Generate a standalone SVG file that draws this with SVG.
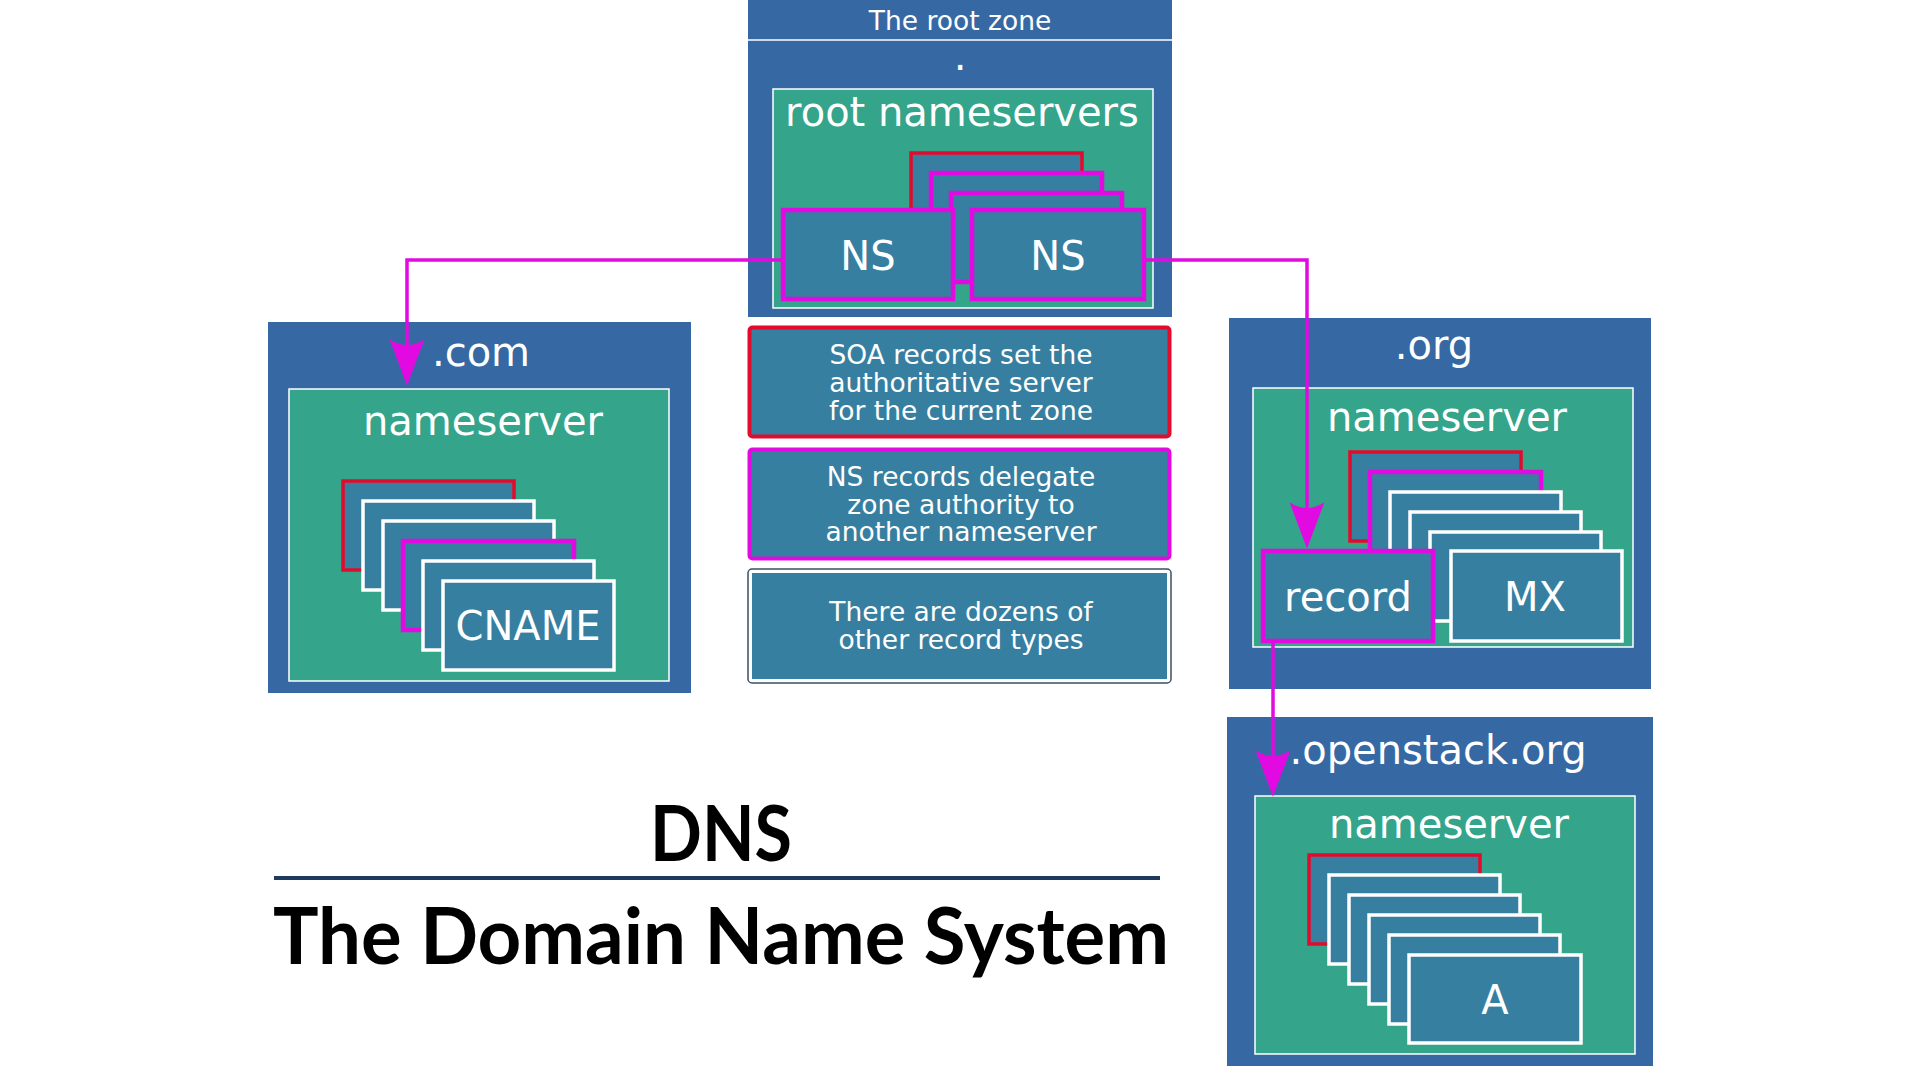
<svg xmlns="http://www.w3.org/2000/svg" width="1920" height="1080" viewBox="0 0 1920 1080">
<style>
.zone{fill:#3669a3}
.ns{fill:#34a48b;stroke:#ffffff;stroke-width:1.5}
.card{fill:#367fa1;stroke:#ffffff;stroke-width:3.5}
.red{stroke:#e30b2c}
.mag{stroke:#e10be1;stroke-width:4.5}
.t{font-family:"DejaVu Sans",sans-serif;fill:#ffffff;text-anchor:middle}
.big{font-size:40px}
.small{font-size:26.5px}
.conn{fill:none;stroke:#e10be1;stroke-width:3.5}
.title{font-family:Lato,"Liberation Sans",sans-serif;font-weight:700;fill:#000000;text-anchor:middle}
</style>
<defs>
<marker id="arr" markerUnits="userSpaceOnUse" markerWidth="60" markerHeight="40" viewBox="-50 -20 62 40" refX="0" refY="0" orient="auto">
<path d="M10,0 L-38,-18 Q-26,0 -38,18 Z" fill="#e10be1"/>
</marker>
</defs>
<rect width="1920" height="1080" fill="#ffffff"/>

<g id="root-zone">
<rect class="zone" x="748" y="0" width="424" height="317"/>
<line x1="748" y1="40" x2="1172" y2="40" stroke="#ffffff" stroke-width="1.5"/>
<text class="t small" x="960" y="30">The root zone</text>
<text class="t big" x="960" y="70">.</text>
<rect class="ns" x="773" y="89" width="380" height="219"/>
<text class="t big" x="962" y="126">root nameservers</text>
<rect class="card red" x="911" y="153" width="171" height="89"/>
<rect class="card mag" x="931" y="173" width="171" height="89"/>
<rect class="card mag" x="951" y="193" width="171" height="89"/>
<rect class="card mag" x="783" y="210" width="170" height="89"/>
<text class="t big" x="868" y="270">NS</text>
<rect class="card mag" x="972" y="210" width="172" height="89"/>
<text class="t big" x="1058" y="270">NS</text>
</g>

<g id="com-zone">
<rect class="zone" x="268" y="322" width="423" height="371"/>
<text class="t big" x="481" y="366">.com</text>
<rect class="ns" x="289" y="389" width="380" height="292"/>
<text class="t big" x="483" y="435">nameserver</text>
<rect class="card red" x="343" y="481" width="171" height="89"/>
<rect class="card" x="363" y="501" width="171" height="89"/>
<rect class="card" x="383" y="521" width="171" height="89"/>
<rect class="card mag" x="403" y="541" width="171" height="89"/>
<rect class="card" x="423" y="561" width="171" height="89"/>
<rect class="card" x="443" y="581" width="171" height="89"/>
<text class="t big" x="528" y="640">CNAME</text>
</g>

<g id="legend-soa">
<rect x="749.5" y="327.5" width="420" height="109" rx="3" fill="#367fa1" stroke="#e30b2c" stroke-width="4"/>
<text class="t small" x="961" y="364">SOA records set the</text>
<text class="t small" x="961" y="392">authoritative server</text>
<text class="t small" x="961" y="420">for the current zone</text>
</g>

<g id="legend-ns">
<rect x="749.5" y="449.5" width="420" height="109" rx="3" fill="#367fa1" stroke="#e10be1" stroke-width="4"/>
<text class="t small" x="961" y="486">NS records delegate</text>
<text class="t small" x="961" y="514">zone authority to</text>
<text class="t small" x="961" y="541">another nameserver</text>
</g>

<g id="legend-other">
<rect x="748" y="569" width="423" height="114" rx="4" fill="#ffffff" stroke="#3b4f66" stroke-width="1.5"/>
<rect x="752" y="573" width="415" height="106" fill="#367fa1"/>
<text class="t small" x="961" y="621">There are dozens of</text>
<text class="t small" x="961" y="649">other record types</text>
</g>

<g id="org-zone">
<rect class="zone" x="1229" y="318" width="422" height="371"/>
<text class="t big" x="1434" y="359">.org</text>
<rect class="ns" x="1253" y="388" width="380" height="259"/>
<text class="t big" x="1447" y="431">nameserver</text>
<rect class="card red" x="1350" y="452" width="171" height="89"/>
<rect class="card mag" x="1370" y="472" width="171" height="89"/>
<rect class="card" x="1390" y="492" width="171" height="89"/>
<rect class="card" x="1410" y="512" width="171" height="89"/>
<rect class="card" x="1430" y="532" width="171" height="89"/>
<rect class="card mag" x="1263" y="551" width="170" height="90"/>
<text class="t big" x="1348" y="611">record</text>
<rect class="card" x="1451" y="551" width="171" height="90"/>
<text class="t big" x="1535" y="611">MX</text>
</g>

<g id="openstack-zone">
<rect class="zone" x="1227" y="717" width="426" height="349"/>
<text class="t big" x="1438" y="764">.openstack.org</text>
<rect class="ns" x="1255" y="796" width="380" height="258"/>
<text class="t big" x="1449" y="838">nameserver</text>
<rect class="card red" x="1309" y="855" width="171" height="89"/>
<rect class="card" x="1329" y="875" width="171" height="89"/>
<rect class="card" x="1349" y="895" width="171" height="89"/>
<rect class="card" x="1369" y="915" width="171" height="89"/>
<rect class="card" x="1389" y="935" width="171" height="89"/>
<rect class="card" x="1409" y="955" width="172" height="88"/>
<text class="t big" x="1495" y="1014">A</text>
</g>

<g id="connectors">
<path class="conn" d="M783,260 H407 V376" marker-end="url(#arr)"/>
<path class="conn" d="M1144,260 H1307 V539" marker-end="url(#arr)"/>
<path class="conn" d="M1273,643 V787" marker-end="url(#arr)"/>
</g>

<g id="title">
<text class="title" x="721" y="861" font-size="77" textLength="142" lengthAdjust="spacingAndGlyphs">DNS</text>
<line x1="274" y1="878" x2="1160" y2="878" stroke="#1f3a5f" stroke-width="4"/>
<text class="title" x="721" y="964" font-size="79" textLength="896" lengthAdjust="spacingAndGlyphs">The Domain Name System</text>
</g>
</svg>
